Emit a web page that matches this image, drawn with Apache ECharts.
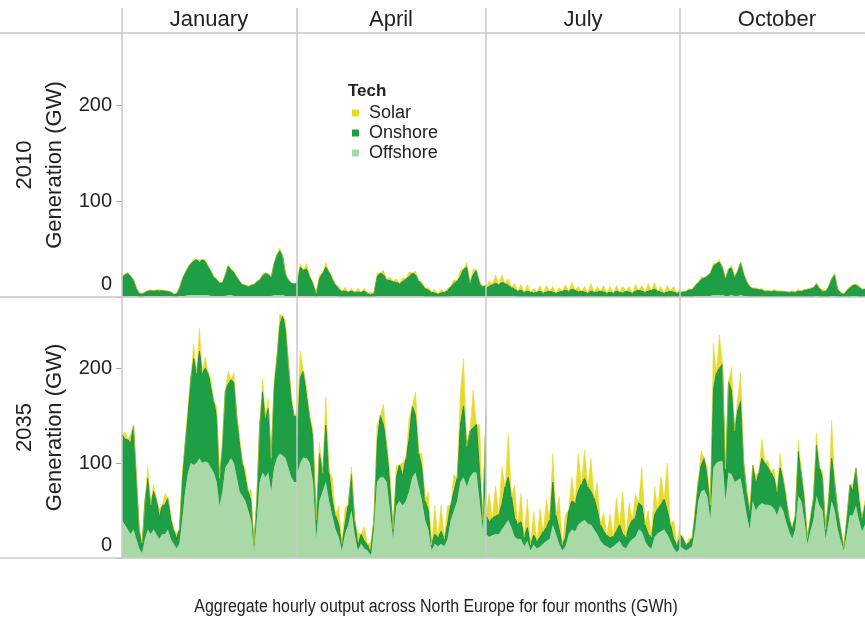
<!DOCTYPE html>
<html>
<head>
<meta charset="utf-8">
<script src="https://cdn.jsdelivr.net/npm/echarts@6/dist/echarts.min.js"></script>
<style>
  html, body { margin: 0; padding: 0; background: #fff; }
  #chart { width: 865px; height: 624px; }
</style>
</head>
<body>
<div id="chart"></div>
<script>
// Categories
const months = ['January', 'April', 'July', 'October'];
const years = ['2010', '2035'];
const techs = ['Solar', 'Onshore', 'Offshore'];
const yTicks = [0, 100, 200];

// Generation (GW), sampled every 12 hours (midnight / noon) through each month
// ---- 2010 ----
const offJan10 = [1,1,1,1,1,1,0,0,1,1, 1,1,1,1,1,1,1,1,0,0, 1,1,1,2,2,2,2,2,2,2, 2,1,1,1,1,1,1,2,2,1, 1,1,1,1,1,1,1,1,1,1, 1,1,1,2,2,2,2,1,1,1, 1,1];
const onJan10  = [20,22,24,20,17,8,4,3,4,5, 6,5,6,5,6,5,5,4,3,3, 8,17,24,28,33,35,37,34,37,35, 30,25,20,17,14,13,22,30,27,24, 20,15,12,11,10,11,12,14,17,21, 24,22,20,32,42,46,41,22,17,13, 13,13];
const solJan10 = [0,1,0,2,0,1,0,1,0,1, 0,1,0,2,0,1,0,1,0,1, 0,2,0,2,0,3,0,3,0,2, 0,2,0,1,0,2,0,2,0,2, 0,1,0,1,0,1,0,2,0,2, 0,2,0,2,0,3,0,2,0,1, 0,1];

const offApr10 = [1,1,1,1,1,1,0,1,1,1, 1,1,1,0,0,0,0,0,0,0, 0,0,0,0,0,1,1,1,1,1, 1,1,1,1,1,1,1,1,1,1, 0,0,0,0,0,0,0,0,1,1, 1,1,1,1,1,1,1,1,1,1];
const onApr10  = [15,30,27,28,20,12,4,18,24,30, 25,17,12,8,6,6,5,6,5,5, 5,6,4,2,4,20,24,22,17,16, 15,14,13,15,18,20,24,22,16,12, 9,7,5,4,3,4,5,6,10,13, 16,20,28,30,14,22,27,12,10,10];
const solApr10 = [0,4,0,6,0,3,0,4,0,5, 0,4,0,3,0,4,0,3,0,4, 0,3,0,3,0,4,0,5,0,4, 0,4,0,4,0,5,0,4,0,3, 0,3,0,4,0,4,0,3,0,4, 0,7,0,5,0,6,0,4,0,3];

const offJul10 = [1,1,1,1,1,1,1,1,1,1, 0,0,0,0,0,0,0,0,0,0, 0,0,0,0,0,0,0,0,0,0, 0,0,0,0,0,0,0,0,0,0, 0,0,0,0,0,0,0,0,0,0, 0,0,0,0,0,0,0,0,0,0, 0,0];
const onJul10  = [8,10,12,13,12,14,13,11,9,7, 6,7,5,6,5,4,5,6,4,5, 6,5,4,5,6,7,6,8,7,5, 6,5,4,6,5,5,6,5,4,5, 4,6,5,4,6,5,4,6,7,6, 5,6,7,8,6,5,4,5,6,5, 4,5];
const solJul10 = [0,6,0,9,0,8,0,7,0,6, 0,6,0,7,0,5,0,6,0,7, 0,6,0,5,0,6,0,7,0,6, 0,6,0,8,0,6,0,7,0,6, 0,6,0,7,0,6,0,7,0,6, 0,8,0,7,0,6,0,7,0,6, 0,4];

const offOct10 = [0,0,0,0,0,1,1,1,1,1, 1,2,2,2,2,1,1,2,1,1, 2,1,1,0,0,0,0,0,0,0, 0,0,0,0,0,0,0,0,0,0, 0,0,0,0,0,1,0,0,0,0, 1,1,0,0,0,0,0,1,1,0, 0,0];
const onOct10  = [5,5,6,7,8,10,14,17,19,20, 24,30,33,34,29,17,28,28,20,25, 34,22,15,10,9,8,8,7,6,6, 6,6,6,5,6,5,5,5,5,6, 6,7,8,8,10,12,9,5,6,10, 18,22,8,4,3,6,10,11,12,10, 8,8];
const solOct10 = [0,1,0,2,0,2,0,3,0,2, 0,3,0,3,0,2,0,3,0,2, 0,3,0,2,0,2,0,2,0,1, 0,2,0,2,0,1,0,2,0,2, 0,1,0,2,0,2,0,3,0,2, 0,2,0,1,0,2,0,1,0,2, 0,1];

// ---- 2035 ----
const offJan35 = [40,35,30,25,30,20,10,5,20,30, 25,30,25,20,25,25,30,20,15,10, 15,40,70,90,100,98,100,105,100,102, 100,95,90,80,55,70,95,100,105,100, 85,70,65,60,50,40,8,40,80,90, 85,90,70,95,105,110,108,105,95,85, 80,80];
const onJan35  = [90,90,95,95,110,64,20,7,40,54, 31,40,37,22,30,31,33,20,15,10, 15,40,50,60,90,112,95,113,95,98, 95,84,75,68,29,46,81,83,83,85, 65,50,35,24,20,20,6,20,60,85, 63,68,35,81,106,135,147,135,110,80, 70,68];
const solJan35 = [0,8,0,10,0,6,0,4,0,12, 0,8,0,10,0,12,0,8,0,6, 0,10,0,12,0,15,0,24,0,12, 0,10,0,12,0,8,0,14,0,10, 0,8,0,10,0,12,0,8,0,14, 0,10,0,12,0,12,0,10,0,8, 0,6];

const offApr35 = [88,100,106,105,100,80,20,60,70,80, 60,45,30,22,8,25,35,50,25,8, 15,10,8,3,30,80,85,85,80,50, 20,55,60,55,60,70,85,90,75,60, 40,30,8,15,12,15,12,20,40,50, 60,80,85,75,85,90,90,60,30,80];
const onApr35  = [42,90,91,65,48,45,20,50,20,60, 30,15,15,13,7,10,21,38,15,4, 10,8,6,2,10,40,65,55,38,25, 10,30,38,31,45,55,75,60,35,35, 20,20,6,10,10,13,8,15,16,20, 24,60,75,43,49,47,51,30,10,70];
const solApr35 = [0,28,0,10,0,10,0,12,0,30, 0,25,0,20,0,18,0,8,0,15, 0,15,0,12,0,20,0,22,0,18, 0,12,0,15,0,22,0,25,0,15, 0,20,0,30,0,28,0,20,0,18, 0,35,50,0,0,40,0,50,0,10];

const offJul35 = [25,22,24,25,25,30,35,40,32,22, 20,20,12,18,8,14,10,12,15,18, 20,35,25,15,8,12,25,30,28,35, 38,40,36,35,30,25,18,14,12,10, 12,15,18,12,10,16,20,22,30,28, 18,12,10,22,26,28,30,25,18,10, 6,10];
const onJul35  = [20,16,18,19,21,26,40,45,33,20, 16,18,10,14,6,10,8,10,13,14, 20,45,20,15,6,9,25,30,30,35, 40,44,39,35,33,25,17,14,12,11, 11,13,17,13,12,17,20,20,28,27, 17,13,12,23,26,28,32,25,17,10, 8,11];
const solJul35 = [0,30,0,32,0,40,0,45,0,35, 0,30,0,30,0,25,0,30,0,30, 0,30,0,35,0,25,0,25,0,40, 0,30,0,35,0,30,0,20,0,25, 0,35,0,45,0,25,0,25,0,40, 0,25,0,30,0,30,0,50,0,20, 0,15];

const offOct35 = [12,10,8,10,12,30,60,70,72,65, 40,95,100,102,102,60,90,88,80,82, 84,65,45,30,60,50,55,58,56,56, 55,52,45,55,50,38,28,20,30,65, 60,40,15,28,40,65,55,50,20,38, 60,50,30,18,8,25,45,45,55,40, 28,35];
const onOct35  = [13,10,6,6,9,15,20,28,33,19, 16,81,95,98,102,24,96,88,54,73, 81,35,25,12,38,27,35,47,44,39, 35,32,25,40,34,22,14,8,15,47, 30,20,6,12,23,54,40,34,10,22, 45,30,20,10,3,15,32,25,40,20, 14,21];
const solOct35 = [0,3,0,5,0,10,0,15,0,12, 0,50,0,35,0,10,0,25,0,12, 30,0,0,12,0,10,0,20,0,8, 0,10,0,15,0,8,0,6,0,12, 0,8,0,5,0,12,0,8,0,6, 40,0,0,5,0,5,0,8,0,12, 0,5];

// Panel table: [year][month] -> series
const panels = [
  [ {off: offJan10, on: onJan10, sol: solJan10}, {off: offApr10, on: onApr10, sol: solApr10},
    {off: offJul10, on: onJul10, sol: solJul10}, {off: offOct10, on: onOct10, sol: solOct10} ],
  [ {off: offJan35, on: onJan35, sol: solJan35}, {off: offApr35, on: onApr35, sol: solApr35},
    {off: offJul35, on: onJul35, sol: solJul35}, {off: offOct35, on: onOct35, sol: solOct35} ]
];

// Layout
const colLeft = [122, 297, 486, 680];
const colWidth = [175, 189, 194, 185];
const colCenter = [209, 391, 583, 777];
const rowTop = [33, 297];
const rowHeight = [264, 261];
const yMax = 275;

const FONT = '"Liberation Sans", Arial, sans-serif';
const colors = { Solar: '#e8da2c', Onshore: '#1f9f45', Offshore: '#a9d9a6' };

const grids = [], xAxes = [], yAxes = [], series = [];
for (let r = 0; r < 2; r++) {
  for (let c = 0; c < 4; c++) {
    const g = r * 4 + c;
    const p = panels[r][c];
    grids.push({ left: colLeft[c], top: rowTop[r], width: colWidth[c], height: rowHeight[r], containLabel: false });
    xAxes.push({
      gridIndex: g, type: 'category', boundaryGap: false,
      data: p.on.map((_, i) => i * 12), show: false
    });
    yAxes.push({
      gridIndex: g, type: 'value', min: 0, max: yMax, interval: 100,
      splitLine: { show: false },
      axisLine: { show: false },
      axisTick: { show: c === 0, length: 6, customValues: yTicks, lineStyle: { color: '#aaa', width: 1 } },
      axisLabel: {
        show: c === 0, customValues: yTicks, margin: 10,
        color: '#222', fontSize: 20, fontFamily: FONT,
        formatter: v => v === 0 ? '{z|0}' : String(v),
        rich: { z: { color: '#222', fontSize: 20, fontFamily: FONT, padding: [0, 0, 26, 0] } }
      }
    });
    const common = {
      type: 'line', xAxisIndex: g, yAxisIndex: g, stack: 'g' + g,
      symbol: 'none', showSymbol: false, silent: true, animation: false
    };
    series.push(Object.assign({}, common, {
      name: 'Offshore', data: p.off,
      lineStyle: { width: 0 }, itemStyle: { color: colors.Offshore },
      areaStyle: { color: colors.Offshore, opacity: 1 }
    }));
    series.push(Object.assign({}, common, {
      name: 'Onshore', data: p.on,
      lineStyle: { width: 1, color: '#178a3a' }, itemStyle: { color: colors.Onshore },
      areaStyle: { color: colors.Onshore, opacity: 1 }
    }));
    series.push(Object.assign({}, common, {
      name: 'Solar', data: p.sol,
      lineStyle: { width: 0.6, color: colors.Solar }, itemStyle: { color: colors.Solar },
      areaStyle: { color: colors.Solar, opacity: 1 }
    }));
  }
}

// Frame lines and texts
const lineStyle = { stroke: '#c8c8c8', lineWidth: 1.5 };
const graphic = [];
[33, 297, 558].forEach(y => graphic.push({
  type: 'line', z: 50, silent: true, shape: { x1: 0, y1: y, x2: 865, y2: y }, style: lineStyle
}));
colLeft.forEach(x => graphic.push({
  type: 'line', z: 50, silent: true, shape: { x1: x, y1: 8, x2: x, y2: 558 }, style: lineStyle
}));
months.forEach((m, c) => graphic.push({
  type: 'text', x: colCenter[c], y: 20, z: 60,
  style: { text: m, font: '22px ' + FONT, fill: '#222', align: 'center', verticalAlign: 'middle' }
}));
years.forEach((yr, r) => {
  const cy = rowTop[r] + rowHeight[r] / 2;
  graphic.push({
    type: 'text', x: 25, y: cy, rotation: Math.PI / 2, z: 60,
    style: { text: yr, font: '22px ' + FONT, fill: '#222', align: 'center', verticalAlign: 'middle' }
  });
  graphic.push({
    type: 'text', x: 55, y: cy, rotation: Math.PI / 2, z: 60,
    style: { text: 'Generation (GW)', font: '22px ' + FONT, fill: '#222', align: 'center', verticalAlign: 'middle' }
  });
});
graphic.push({
  type: 'text', x: 348, y: 91, z: 60,
  style: { text: 'Tech', font: 'bold 17px ' + FONT, fill: '#222', align: 'left', verticalAlign: 'middle' }
});
// Caption set in a condensed face (horizontally narrowed)
graphic.push({
  type: 'text', x: 436, y: 607, z: 60, scaleX: 0.885,
  style: {
    text: 'Aggregate hourly output across North Europe for four months (GWh)',
    font: '18px ' + FONT,
    fill: '#222', align: 'center', verticalAlign: 'middle'
  }
});

const chart = echarts.init(document.getElementById('chart'), null, { renderer: 'canvas' });
chart.setOption({
  animation: false,
  backgroundColor: '#fff',
  grid: grids,
  xAxis: xAxes,
  yAxis: yAxes,
  series: series,
  legend: {
    data: techs, orient: 'vertical', left: 347, top: 99,
    icon: 'rect', itemWidth: 7, itemHeight: 7, itemGap: 2,
    selectedMode: false,
    textStyle: { fontSize: 18, fontFamily: FONT, color: '#222', padding: [0, 0, 0, 5] }
  },
  graphic: graphic
});
</script>
</body>
</html>
